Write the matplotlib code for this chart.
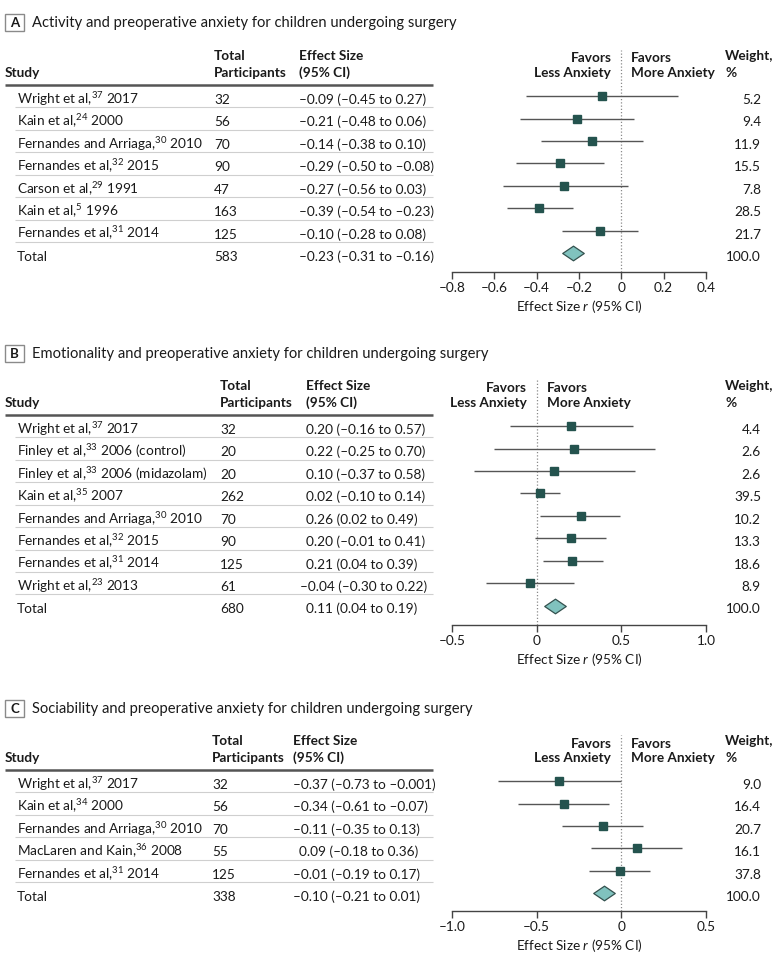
import matplotlib
matplotlib.use('Agg')
import matplotlib.pyplot as plt
from matplotlib.lines import Line2D
from matplotlib.patches import Rectangle
from matplotlib.path import Path

plt.rcParams['font.family'] = ['Lato', 'DejaVu Sans']
plt.rcParams['mathtext.fontset'] = 'custom'
plt.rcParams['mathtext.rm'] = 'Lato'
plt.rcParams['mathtext.it'] = 'Lato:italic'
plt.rcParams['mathtext.bf'] = 'Lato:bold'

# ---------------- data ----------------
title_A = "Activity and preoperative anxiety for children undergoing surgery"
studies_A = ["Wright et al,$^{37}$ 2017", "Kain et al,$^{24}$ 2000",
             "Fernandes and Arriaga,$^{30}$ 2010", "Fernandes et al,$^{32}$ 2015",
             "Carson et al,$^{29}$ 1991", "Kain et al,$^{5}$ 1996",
             "Fernandes et al,$^{31}$ 2014"]
n_A = [32, 56, 70, 90, 47, 163, 125]
es_A = [-0.09, -0.21, -0.14, -0.29, -0.27, -0.39, -0.10]
lo_A = [-0.45, -0.48, -0.38, -0.50, -0.56, -0.54, -0.28]
hi_A = [0.27, 0.06, 0.10, -0.08, 0.03, -0.23, 0.08]
w_A = [5.2, 9.4, 11.9, 15.5, 7.8, 28.5, 21.7]
total_A = [583, -0.23, -0.31, -0.16, 100.0]
ticks_A = [-0.8, -0.6, -0.4, -0.2, 0, 0.2, 0.4]

title_B = "Emotionality and preoperative anxiety for children undergoing surgery"
studies_B = ["Wright et al,$^{37}$ 2017", "Finley et al,$^{33}$ 2006 (control)",
             "Finley et al,$^{33}$ 2006 (midazolam)", "Kain et al,$^{35}$ 2007",
             "Fernandes and Arriaga,$^{30}$ 2010", "Fernandes et al,$^{32}$ 2015",
             "Fernandes et al,$^{31}$ 2014", "Wright et al,$^{23}$ 2013"]
n_B = [32, 20, 20, 262, 70, 90, 125, 61]
es_B = [0.20, 0.22, 0.10, 0.02, 0.26, 0.20, 0.21, -0.04]
lo_B = [-0.16, -0.25, -0.37, -0.10, 0.02, -0.01, 0.04, -0.30]
hi_B = [0.57, 0.70, 0.58, 0.14, 0.49, 0.41, 0.39, 0.22]
w_B = [4.4, 2.6, 2.6, 39.5, 10.2, 13.3, 18.6, 8.9]
total_B = [680, 0.11, 0.04, 0.19, 100.0]
ticks_B = [-0.5, 0, 0.5, 1.0]

title_C = "Sociability and preoperative anxiety for children undergoing surgery"
studies_C = ["Wright et al,$^{37}$ 2017", "Kain et al,$^{34}$ 2000",
             "Fernandes and Arriaga,$^{30}$ 2010", "MacLaren and Kain,$^{36}$ 2008",
             "Fernandes et al,$^{31}$ 2014"]
n_C = [32, 56, 70, 55, 125]
es_C = [-0.37, -0.34, -0.11, 0.09, -0.01]
lo_C = [-0.73, -0.61, -0.35, -0.18, -0.19]
hi_C = [-0.001, -0.07, 0.13, 0.36, 0.17]
w_C = [9.0, 16.4, 20.7, 16.1, 37.8]
total_C = [338, -0.10, -0.21, 0.01, 100.0]
ticks_C = [-1.0, -0.5, 0, 0.5]

# ---------------- layout helpers ----------------
W, H, DPI = 780, 964, 100
fig = plt.figure(figsize=(W / DPI, H / DPI), dpi=DPI)
fig.patch.set_facecolor('white')

def fx(x):
    return x / W

def fy(y):
    return 1 - y / H

FS = 9.8
TFS = 10.6
TXT = '#1a1a1a'
SQ = '#24534e'
CI_C = '#555555'
DIA_F = '#80c2be'
DIA_E = '#34524f'
SEP = '#cfcfcf'
HDR = '#555555'
DASH = '\u2013'

def fmt(v):
    s = f"{v:.3f}" if (v != 0 and abs(v) < 0.01) else f"{v:.2f}"
    return s.replace('-', DASH)

def es_str(e, l, h):
    return f"{fmt(e)} ({fmt(l)} to {fmt(h)})"

def tick_lab(t):
    if t == 0:
        return "0"
    return f"{t:.1f}".replace('-', DASH)

def hline(x0, x1, y, color, lw):
    fig.add_artist(Line2D([fx(x0), fx(x1)], [fy(y), fy(y)], transform=fig.transFigure,
                          color=color, lw=lw, solid_capstyle='butt'))

SP = 22.43
diamond = Path([(-1, 0), (0, 0.68), (1, 0), (0, -0.68), (-1, 0)],
               [Path.MOVETO, Path.LINETO, Path.LINETO, Path.LINETO, Path.CLOSEPOLY])

def panel(letter, title, studies, n, es, lo, hi, w, total, ticks, g):
    # title with boxed letter
    ty = g['title']
    fig.add_artist(Rectangle((fx(5), fy(ty + 4)), 19 / W, 17 / H, transform=fig.transFigure,
                             fill=False, ec='#8a8a8a', lw=1.0))
    fig.text(fx(14.5), fy(ty), letter, ha='center', va='baseline', fontsize=9.5,
             fontweight='bold', color=TXT)
    fig.text(fx(32), fy(ty), title, ha='left', va='baseline', fontsize=TFS, color=TXT)

    hl = g['hline']
    b1, b2 = hl - 25, hl - 8
    # table headers
    fig.text(fx(5), fy(b2), "Study", ha='left', va='baseline', fontsize=FS,
             fontweight='bold', color=TXT)
    fig.text(fx(g['ncol']), fy(b1), "Total", ha='left', va='baseline', fontsize=FS,
             fontweight='bold', color=TXT)
    fig.text(fx(g['ncol']), fy(b2), "Participants", ha='left', va='baseline', fontsize=FS,
             fontweight='bold', color=TXT)
    fig.text(fx(g['escol']), fy(b1), "Effect Size", ha='left', va='baseline', fontsize=FS,
             fontweight='bold', color=TXT)
    fig.text(fx(g['escol']), fy(b2), "(95% CI)", ha='left', va='baseline', fontsize=FS,
             fontweight='bold', color=TXT)
    fig.text(fx(725), fy(b1), "Weight,", ha='left', va='baseline', fontsize=FS,
             fontweight='bold', color=TXT)
    fig.text(fx(725), fy(b2), "%", ha='left', va='baseline', fontsize=FS,
             fontweight='bold', color=TXT)
    hline(5, 433, hl, HDR, 1.8)

    c0 = hl + 11.2
    labels = list(studies) + ["Total"]
    ns = list(n) + [total[0]]
    ess = list(es) + [total[1]]
    los = list(lo) + [total[2]]
    his = list(hi) + [total[3]]
    ws = list(w) + [total[4]]
    for i, lab in enumerate(labels):
        c = c0 + i * SP
        bl = c + 7.8
        fig.text(fx(17), fy(bl), lab, ha='left', va='baseline', fontsize=FS, color=TXT)
        fig.text(fx(g['ncol']), fy(bl), str(ns[i]), ha='left', va='baseline', fontsize=FS,
                 color=TXT)
        xd = g['digit'] - (6 if ess[i] < 0 else 0)
        fig.text(fx(xd), fy(bl), es_str(ess[i], los[i], his[i]), ha='left', va='baseline',
                 fontsize=FS, color=TXT)
        fig.text(fx(761), fy(bl), f"{ws[i]:.1f}", ha='right', va='baseline', fontsize=FS,
                 color=TXT)
        if i < len(labels) - 1:
            hline(15, 433, c + SP / 2, SEP, 0.8)

    # forest plot axes
    top, ax_y = g['dot_top'], g['axis']
    ax = fig.add_axes([fx(452), fy(ax_y), 254 / W, (ax_y - top) / H])
    ax.set_xlim(ticks[0], ticks[-1])
    ax.set_ylim((ax_y - c0) / SP, (top - c0) / SP)
    ax.axvline(0, color='#8a8a8a', lw=0.9, ls=(0, (1, 1.6)), zorder=1)
    for i in range(len(es)):
        ax.plot([lo[i], hi[i]], [i, i], color=CI_C, lw=1.0, zorder=2,
                solid_capstyle='butt')
        ax.plot([es[i]], [i], marker='s', ms=5.4, color=SQ, mec=SQ, zorder=3)
    ax.plot([total[1]], [len(es)], marker=diamond, ms=15.5, mfc=DIA_F, mec=DIA_E,
            mew=0.9, zorder=3)
    for s in ['left', 'right', 'top']:
        ax.spines[s].set_visible(False)
    ax.spines['bottom'].set_color('#444444')
    ax.spines['bottom'].set_linewidth(1.0)
    ax.set_yticks([])
    ax.set_xticks(ticks)
    ax.set_xticklabels([tick_lab(t) for t in ticks])
    ax.tick_params(axis='x', direction='out', length=5, width=1.0, color='#444444',
                   labelsize=FS, labelcolor=TXT, pad=2)
    ax.set_xlabel("Effect Size $\\mathit{r}$ (95% CI)", fontsize=FS, color=TXT, labelpad=3)
    ax.patch.set_alpha(0)

    # favors labels
    for txt, off, ha in [("Favors\nLess Anxiety", -7.2, 'right'),
                         ("Favors\nMore Anxiety", 7.2, 'left')]:
        ax.annotate(txt, xy=(0, fy(b2)), xycoords=('data', 'figure fraction'),
                    xytext=(off, 0), textcoords='offset points', ha=ha, va='baseline',
                    fontsize=FS, fontweight='bold', color=TXT, linespacing=1.25,
                    annotation_clip=False)
    return ax

panel("A", title_A, studies_A, n_A, es_A, lo_A, hi_A, w_A, total_A, ticks_A,
      dict(title=27, hline=85, ncol=214, escol=299, digit=305, axis=272, dot_top=50))
panel("B", title_B, studies_B, n_B, es_B, lo_B, hi_B, w_B, total_B, ticks_B,
      dict(title=358, hline=415, ncol=220, escol=306, digit=306, axis=625, dot_top=380))
panel("C", title_C, studies_C, n_C, es_C, lo_C, hi_C, w_C, total_C, ticks_C,
      dict(title=713, hline=770, ncol=212, escol=293, digit=299, axis=911, dot_top=735))

fig.savefig("out.png", dpi=DPI, facecolor='white')
